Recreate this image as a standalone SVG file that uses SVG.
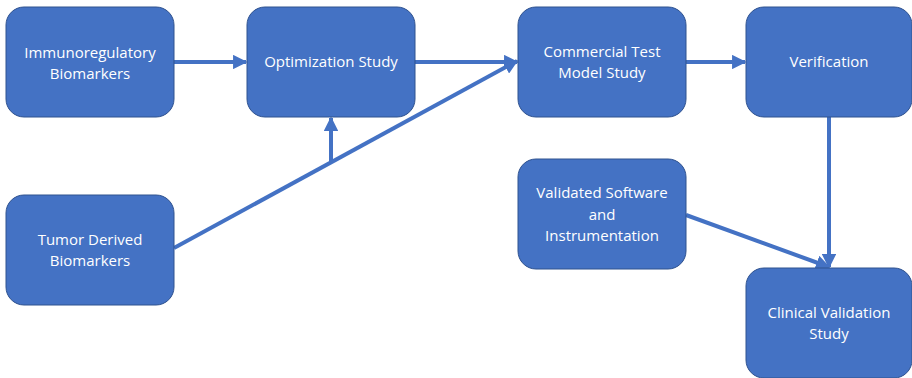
<svg xmlns="http://www.w3.org/2000/svg" width="912" height="378" viewBox="0 0 912 378">
<style>
.node rect{fill:#4472C4;stroke:#2F528F;stroke-width:1}
.node text{fill:#FFFFFF;font-family:"Open Sans","Liberation Sans",sans-serif;font-size:15px;text-anchor:middle}
.conn line{stroke:#4472C4;stroke-width:4;fill:none}
</style>
<defs>
<marker id="ah" viewBox="0 0 10 10" refX="9" refY="5" markerWidth="3.6" markerHeight="3.6" orient="auto" markerUnits="strokeWidth">
<path d="M0,0 L10,5 L0,10 z" fill="#4472C4"/>
</marker>
</defs>
<g id="connectors" class="conn">
<line x1="174" y1="62" x2="246" y2="62" marker-end="url(#ah)"/>
<line x1="415" y1="62" x2="517" y2="62" marker-end="url(#ah)"/>
<line x1="686" y1="62" x2="745" y2="62" marker-end="url(#ah)"/>
<line x1="174" y1="248" x2="517" y2="61" marker-end="url(#ah)"/>
<line x1="331" y1="163" x2="331" y2="118" marker-end="url(#ah)"/>
<line x1="829" y1="117" x2="829" y2="267" marker-end="url(#ah)"/>
<line x1="686" y1="215" x2="829" y2="267" marker-end="url(#ah)"/>
</g>
<g id="immunoregulatory" class="node">
<rect x="6" y="7" width="168" height="110" rx="18"/>
<text x="90" y="58">Immunoregulatory</text>
<text x="90" y="79">Biomarkers</text>
</g>
<g id="optimization" class="node">
<rect x="247" y="7" width="168" height="110" rx="18"/>
<text x="331" y="67">Optimization Study</text>
</g>
<g id="commercial" class="node">
<rect x="518" y="7" width="168" height="110" rx="18"/>
<text x="602" y="57">Commercial Test</text>
<text x="602" y="78">Model Study</text>
</g>
<g id="verification" class="node">
<rect x="746" y="7" width="166" height="110" rx="18"/>
<text x="829" y="67">Verification</text>
</g>
<g id="tumor" class="node">
<rect x="6" y="195" width="168" height="110" rx="18"/>
<text x="90" y="245">Tumor Derived</text>
<text x="90" y="266">Biomarkers</text>
</g>
<g id="validated" class="node">
<rect x="518" y="159" width="168" height="110" rx="18"/>
<text x="602" y="198">Validated Software</text>
<text x="602" y="220">and</text>
<text x="602" y="241">Instrumentation</text>
</g>
<g id="clinical" class="node">
<rect x="746" y="268" width="166" height="110" rx="18"/>
<text x="829" y="318">Clinical Validation</text>
<text x="829" y="339">Study</text>
</g>
</svg>
